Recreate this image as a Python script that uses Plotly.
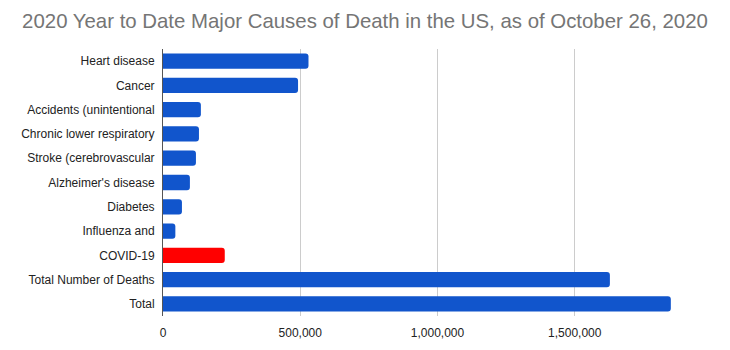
import plotly.graph_objects as go

categories = ["Heart disease", "Cancer", "Accidents (unintentional", "Chronic lower respiratory",
              "Stroke (cerebrovascular", "Alzheimer's disease", "Diabetes", "Influenza and",
              "COVID-19", "Total Number of Deaths", "Total"]
values = [530000, 492000, 138000, 131000, 120000, 98000, 69000, 45000, 225000, 1628000, 1850000]
colors = ["#1155cc"] * 8 + ["#ff0000"] + ["#1155cc"] * 2
tick_vals = [0, 500000, 1000000, 1500000]
tick_text = ["0", "500,000", "1,000,000", "1,500,000"]

fig = go.Figure(go.Bar(
    y=categories, x=values, orientation="h",
    marker=dict(color=colors, line=dict(width=0)),
))
fig.update_layout(
    width=730, height=350,
    margin=dict(l=163, r=18, t=49, b=34),
    paper_bgcolor="white", plot_bgcolor="white",
    font=dict(family="Liberation Sans, Arial, sans-serif", size=12, color="#222222"),
    title=dict(text="2020 Year to Date Major Causes of Death in the US, as of October 26, 2020",
               x=0.5, xanchor="center", y=0.94, yanchor="middle",
               font=dict(size=20.4, color="#757575")),
    bargap=0.37,
    barcornerradius=3,
    showlegend=False,
)
fig.update_xaxes(range=[0, 2000000], tickvals=tick_vals + [2000000], ticktext=tick_text + [""],
                 showgrid=True, gridcolor="#cccccc", gridwidth=1, automargin=False,
                 zeroline=False, showline=False, ticks="", ticklen=0, ticklabelstandoff=8)
fig.update_yaxes(autorange="reversed", showline=True, linecolor="#555555", linewidth=1,
                 automargin=False, ticks="", showgrid=False, ticklabelstandoff=5)
fig.write_html("out.html")
